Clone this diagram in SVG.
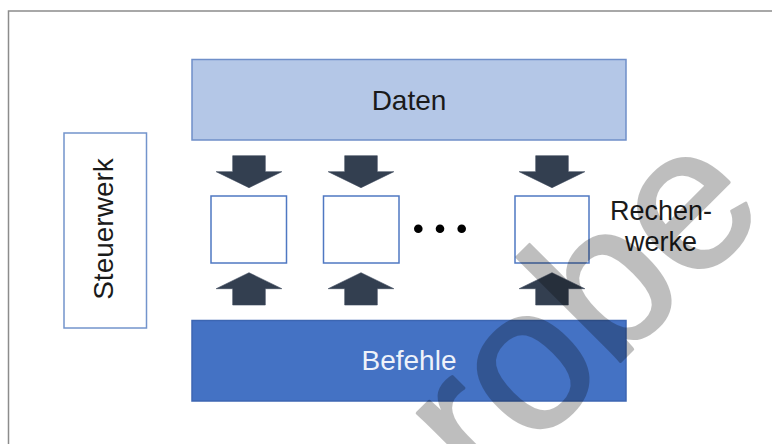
<svg xmlns="http://www.w3.org/2000/svg" width="772" height="444" viewBox="0 0 772 444">
  <style>
    .lbl { font-family: "Liberation Sans", Arial, sans-serif; font-size: 28px; fill: #1a1a1a; text-anchor: middle; }
    .unit { fill: #ffffff; stroke: #4f78c2; stroke-width: 1.5; }
    .arrow { fill: #333f50; stroke: #3b475a; stroke-width: 0.6; }
    .dot { fill: #000000; }
    .mark { font-family: "Liberation Sans", Arial, sans-serif; font-size: 203px; fill: #000000; stroke: #000000; stroke-width: 3; stroke-linejoin: round; }
  </style>
  <defs>
    <path id="arrow-down" d="M-16.3,0 H16.3 V16 H32.8 L0,32 L-32.8,16 H-16.3 Z"/>
    <path id="arrow-up" d="M0,0 L32.8,16 H16.3 V32.3 H-16.3 V16 H-32.8 Z"/>
  </defs>

  <rect x="0" y="0" width="772" height="444" fill="#ffffff"/>
  <!-- outer frame, runs past the right and bottom edges -->
  <rect x="8.5" y="11" width="800" height="500" fill="none" stroke="#8c8c8c" stroke-width="1.5"/>

  <g id="daten">
    <rect x="192" y="59.5" width="434" height="80.5" fill="#b4c7e7" stroke="#6f8fc9" stroke-width="1.5"/>
    <text class="lbl" x="409" y="109.5">Daten</text>
  </g>

  <g id="befehle">
    <rect x="192" y="320.5" width="434" height="80.5" fill="#4472c4" stroke="#3c66b2" stroke-width="1.5"/>
    <text class="lbl" x="409" y="369.5" style="fill:#eef2fa">Befehle</text>
  </g>

  <g id="steuerwerk">
    <rect x="64" y="133" width="82.5" height="195" fill="#ffffff" stroke="#7394cc" stroke-width="1.5"/>
    <text class="lbl" transform="translate(112.5,229) rotate(-90)">Steuerwerk</text>
  </g>

  <g id="rechenwerk-1">
    <rect class="unit" x="211" y="196" width="75.5" height="67"/>
  </g>
  <g id="rechenwerk-2">
    <rect class="unit" x="323.5" y="196" width="75.5" height="67"/>
  </g>
  <g id="ellipsis">
    <circle class="dot" cx="418.3" cy="228.7" r="4.3"/>
    <circle class="dot" cx="440" cy="228.7" r="4.3"/>
    <circle class="dot" cx="461.7" cy="228.7" r="4.3"/>
  </g>
  <g id="rechenwerk-n">
    <rect class="unit" x="515" y="196" width="74" height="67"/>
  </g>

  <g id="rechenwerke-label">
    <text class="lbl" x="661" y="220" style="font-size:27px">Rechen-</text>
    <text class="lbl" x="661" y="251" style="font-size:27px">werke</text>
  </g>

  <g id="connectors">
    <use href="#arrow-down" class="arrow" x="249" y="155.7"/>
    <use href="#arrow-down" class="arrow" x="361" y="155.7"/>
    <use href="#arrow-down" class="arrow" x="552" y="155.7"/>
    <use href="#arrow-up" class="arrow" x="249" y="272.7"/>
    <use href="#arrow-up" class="arrow" x="361" y="272.7"/>
    <use href="#arrow-up" class="arrow" x="552" y="272.7"/>
  </g>

  <!-- translucent watermark across the lower right -->
  <g opacity="0.25">
    <text class="mark" transform="translate(483.5,498.5) rotate(-45)">robe</text>
  </g>
</svg>
